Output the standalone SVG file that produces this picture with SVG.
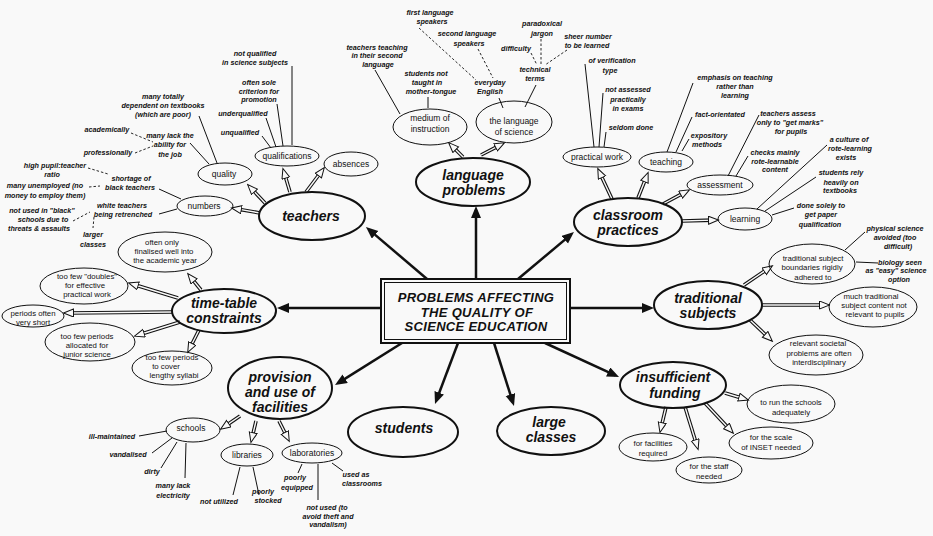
<svg xmlns="http://www.w3.org/2000/svg" width="933" height="536" viewBox="0 0 933 536">
<defs>
<style>
.bg{fill:#f9f9f9}
.me{fill:none;stroke:#111;stroke-width:2}
.se{fill:none;stroke:#111;stroke-width:1}
.mt{font-family:"Liberation Sans",Arial,sans-serif;font-weight:bold;font-style:italic;font-size:14px;text-anchor:middle;fill:#111}
.ct{font-family:"Liberation Sans",Arial,sans-serif;font-weight:bold;font-style:italic;font-size:13px;text-anchor:middle;fill:#111;letter-spacing:0.3px}
.st{font-family:"Liberation Sans",Arial,sans-serif;font-size:8.5px;text-anchor:middle;fill:#111}
.et{font-family:"Liberation Sans",Arial,sans-serif;font-size:7.8px;text-anchor:middle;fill:#111}
.nt{font-family:"Liberation Sans",Arial,sans-serif;font-style:italic;font-weight:bold;font-size:7.2px;text-anchor:middle;fill:#111}
.ln{fill:none;stroke:#111;stroke-width:1}
.dl{fill:none;stroke:#111;stroke-width:0.9;stroke-dasharray:2.5 2}
.ma{fill:none;stroke:#111;stroke-width:2.5;marker-end:url(#solid)}
.do{fill:none;stroke:#111;stroke-width:3.6}
.di{fill:none;stroke:#f9f9f9;stroke-width:1.4;marker-end:url(#hollow)}
</style>
<marker id="solid" markerUnits="userSpaceOnUse" markerWidth="13" markerHeight="11" refX="8" refY="5" orient="auto">
<path d="M0,0 L12,5 L0,10 z" fill="#111"/>
</marker>
<marker id="hollow" markerUnits="userSpaceOnUse" markerWidth="12" markerHeight="10" refX="5" refY="4.5" orient="auto">
<path d="M0.5,0.5 L10.5,4.5 L0.5,8.5 z" fill="#f9f9f9" stroke="#111" stroke-width="1"/>
</marker>
</defs>
<rect class="bg" x="0" y="0" width="933" height="536"/>

<!-- connectors -->
<g id="connectors">
  <!-- main arrows from the central box -->
  <path class="ma" d="M427,279 L369,229.6"/>
  <path class="ma" d="M476,279 L476,210"/>
  <path class="ma" d="M518,279 L570.9,234.6"/>
  <path class="ma" d="M570,308 L650,308"/>
  <path class="ma" d="M545,343 L615.4,375.3"/>
  <path class="ma" d="M494,343 L512.8,402.2"/>
  <path class="ma" d="M458,343 L436.4,400.3"/>
  <path class="ma" d="M402,343 L338.4,382.9"/>
  <path class="ma" d="M385,308 L281,308"/>

  <!-- double-line arrows to sub-topics -->
  <g>
    <path class="do" d="M265,203 L251.4,188.6"/><path class="di" d="M265,203 L251.4,188.6"/>
    <path class="do" d="M290,192 L284.5,173.8"/><path class="di" d="M290,192 L284.5,173.8"/>
    <path class="do" d="M306,192 L321,172"/><path class="di" d="M306,192 L321,172"/>
    <path class="do" d="M260,213 L236.9,208.9"/><path class="di" d="M260,213 L236.9,208.9"/>
    <path class="do" d="M463,157 L452.5,146.5"/><path class="di" d="M463,157 L452.5,146.5"/>
    <path class="do" d="M481,155 L499.6,145.3"/><path class="di" d="M481,155 L499.6,145.3"/>
    <path class="do" d="M612,199 L600.1,173.5"/><path class="di" d="M612,199 L600.1,173.5"/>
    <path class="do" d="M638,198 L646.1,177.6"/><path class="di" d="M638,198 L646.1,177.6"/>
    <path class="do" d="M663,204 L684.6,192.4"/><path class="di" d="M663,204 L684.6,192.4"/>
    <path class="do" d="M682,221 L713,220.1"/><path class="di" d="M682,221 L713,220.1"/>
    <path class="do" d="M744,285 L767.9,268.8"/><path class="di" d="M744,285 L767.9,268.8"/>
    <path class="do" d="M762,305 L824,305"/><path class="di" d="M762,305 L824,305"/>
    <path class="do" d="M750,320 L768.4,337.5"/><path class="di" d="M750,320 L768.4,337.5"/>
    <path class="do" d="M725,393 L743.2,398.5"/><path class="di" d="M725,393 L743.2,398.5"/>
    <path class="do" d="M705,403 L729.6,429.3"/><path class="di" d="M705,403 L729.6,429.3"/>
    <path class="do" d="M685,407 L696.5,444.2"/><path class="di" d="M685,407 L696.5,444.2"/>
    <path class="do" d="M666,407 L661.2,427.1"/><path class="di" d="M666,407 L661.2,427.1"/>
    <path class="do" d="M240,416 L225.1,426.2"/><path class="di" d="M240,416 L225.1,426.2"/>
    <path class="do" d="M256,421 L252.2,437.1"/><path class="di" d="M256,421 L252.2,437.1"/>
    <path class="do" d="M279,421 L286.8,436.5"/><path class="di" d="M279,421 L286.8,436.5"/>
    <path class="do" d="M201,290 L191.2,277.9"/><path class="di" d="M201,290 L191.2,277.9"/>
    <path class="do" d="M178,298 L133.8,284.5"/><path class="di" d="M178,298 L133.8,284.5"/>
    <path class="do" d="M172,312 L69,313"/><path class="di" d="M172,312 L69,313"/>
    <path class="do" d="M180,322 L139.8,334.5"/><path class="di" d="M180,322 L139.8,334.5"/>
    <path class="do" d="M199,330 L190.2,347.5"/><path class="di" d="M199,330 L190.2,347.5"/>
  </g>

  <!-- plain and dashed leader lines to notes -->
  <g>
    <path class="ln" d="M292,66 L292,145"/>
    <path class="ln" d="M277,104 L283,146"/>
    <path class="ln" d="M266,118 L276,147"/>
    <path class="ln" d="M262,136 L271,148"/>
    <path class="ln" d="M199,116 L217,163"/>
    <path class="ln" d="M190,143 L209,164"/>
    <path class="dl" d="M131,133 L153,142"/>
    <path class="dl" d="M135,153 L153,146"/>
    <path class="dl" d="M88,168 L108,174"/>
    <path class="dl" d="M89,187 L100,186"/>
    <path class="ln" d="M159,189 L181,199"/>
    <path class="ln" d="M159,214 L177,209"/>
    <path class="dl" d="M73,221 L90,212"/>
    <path class="dl" d="M94,217 L93,228"/>

    <path class="ln" d="M375,70 L400,114"/>
    <path class="ln" d="M428,97 L428,108"/>
    <path class="dl" d="M419,28 L476,80"/>
    <path class="dl" d="M478,49 L493,78"/>
    <path class="ln" d="M499,98 L503,108"/>
    <path class="ln" d="M536,85 L525,107"/>
    <path class="dl" d="M531,53 L537,65"/>
    <path class="dl" d="M541,39 L541,65"/>
    <path class="dl" d="M567,50 L545,65"/>

    <path class="ln" d="M585,64 L594,147"/>
    <path class="ln" d="M603,93 L599,147"/>
    <path class="ln" d="M606,132 L604,147"/>
    <path class="ln" d="M693,83 L667,152"/>
    <path class="ln" d="M692,117 L676,152"/>
    <path class="ln" d="M689,139 L682,151"/>
    <path class="ln" d="M759,115 L728,176"/>
    <path class="ln" d="M748,156 L736,176"/>
    <path class="ln" d="M827,145 L757,209"/>
    <path class="ln" d="M816,177 L765,211"/>
    <path class="ln" d="M794,208 L772,215"/>

    <path class="ln" d="M865,232 L845,250"/>
    <path class="ln" d="M856,262 L878,263"/>

    <path class="ln" d="M139,436 L167,431"/>
    <path class="ln" d="M152,453 L172,438"/>
    <path class="ln" d="M161,468 L177,442"/>
    <path class="ln" d="M185,478 L186,443"/>
    <path class="ln" d="M233,495 L240,467"/>
    <path class="ln" d="M253,467 L259,495"/>
    <path class="ln" d="M302,464 L298,473"/>
    <path class="ln" d="M318,464 L318,500"/>
    <path class="ln" d="M332,463 L343,471"/>
  </g>
</g>

<!-- central topic -->
<g id="centre">
  <rect x="381" y="279" width="189" height="64" fill="#f9f9f9" stroke="#111" stroke-width="2"/>
  <rect x="384.5" y="282.5" width="182" height="57" fill="none" stroke="#111" stroke-width="1"/>
  <text class="ct" x="476" y="302">PROBLEMS AFFECTING</text>
  <text class="ct" x="477" y="317">THE QUALITY OF</text>
  <text class="ct" x="476" y="331">SCIENCE EDUCATION</text>
</g>

<!-- teachers -->
<g id="teachers">
  <ellipse class="me" cx="312" cy="216" rx="53" ry="24"/>
  <text class="mt" x="311" y="221">teachers</text>
</g>
<g id="quality">
  <ellipse class="se" cx="225" cy="174" rx="27" ry="11"/>
  <text class="st" x="224" y="177">quality</text>
</g>
<g id="qualifications">
  <ellipse class="se" cx="287" cy="156" rx="32" ry="10"/>
  <text class="st" x="287" y="159">qualifications</text>
</g>
<g id="absences">
  <ellipse class="se" cx="351" cy="164" rx="27" ry="12"/>
  <text class="st" x="351" y="167">absences</text>
</g>
<g id="numbers">
  <ellipse class="se" cx="205" cy="206" rx="28" ry="10"/>
  <text class="st" x="204" y="209">numbers</text>
</g>
<g id="teacher-notes">
  <text class="nt" x="255" y="56">not qualified</text>
  <text class="nt" x="255" y="65">in science subjects</text>
  <text class="nt" x="259" y="85">often sole</text>
  <text class="nt" x="259" y="94">criterion for</text>
  <text class="nt" x="259" y="102">promotion</text>
  <text class="nt" x="243" y="116">underqualified</text>
  <text class="nt" x="240" y="135">unqualified</text>
  <text class="nt" x="163" y="99">many totally</text>
  <text class="nt" x="163" y="108">dependent on textbooks</text>
  <text class="nt" x="163" y="117">(which are poor)</text>
  <text class="nt" x="170" y="138">many lack the</text>
  <text class="nt" x="170" y="147">ability for</text>
  <text class="nt" x="170" y="157">the job</text>
  <text class="nt" x="107" y="132">academically</text>
  <text class="nt" x="108" y="155">professionally</text>
  <text class="nt" x="55" y="168">high pupil:teacher</text>
  <text class="nt" x="52" y="177">ratio</text>
  <text class="nt" x="131" y="181">shortage of</text>
  <text class="nt" x="130" y="190">black teachers</text>
  <text class="nt" x="45" y="188">many unemployed (no</text>
  <text class="nt" x="45" y="198">money to employ them)</text>
  <text class="nt" x="122" y="208">white teachers</text>
  <text class="nt" x="123" y="217">being retrenched</text>
  <text class="nt" x="42" y="213">not used in &quot;black&quot;</text>
  <text class="nt" x="43" y="222">schools due to</text>
  <text class="nt" x="39" y="231">threats &amp; assaults</text>
  <text class="nt" x="93" y="237">larger</text>
  <text class="nt" x="93" y="247">classes</text>
</g>

<!-- language problems -->
<g id="language-problems">
  <ellipse class="me" cx="473" cy="182" rx="57" ry="24"/>
  <text class="mt" x="473" y="180">language</text>
  <text class="mt" x="474" y="195">problems</text>
</g>
<g id="medium">
  <ellipse class="se" cx="430" cy="127" rx="37" ry="18"/>
  <text class="st" x="430" y="121">medium of</text>
  <text class="st" x="430" y="132">instruction</text>
</g>
<g id="language-of-science">
  <ellipse class="se" cx="514" cy="122" rx="38" ry="21"/>
  <text class="st" x="514" y="124">the language</text>
  <text class="st" x="514" y="135">of science</text>
</g>
<g id="language-notes">
  <text class="nt" x="377" y="50">teachers teaching</text>
  <text class="nt" x="377" y="58">in their second</text>
  <text class="nt" x="378" y="67">language</text>
  <text class="nt" x="426" y="76">students not</text>
  <text class="nt" x="427" y="85">taught in</text>
  <text class="nt" x="431" y="94">mother-tongue</text>
  <text class="nt" x="430" y="15">first language</text>
  <text class="nt" x="432" y="24">speakers</text>
  <text class="nt" x="467" y="36">second language</text>
  <text class="nt" x="469" y="46">speakers</text>
  <text class="nt" x="490" y="85">everyday</text>
  <text class="nt" x="490" y="94">English</text>
  <text class="nt" x="535" y="72">technical</text>
  <text class="nt" x="535" y="81">terms</text>
  <text class="nt" x="516" y="51">difficulty</text>
  <text class="nt" x="542" y="26">paradoxical</text>
  <text class="nt" x="542" y="36">jargon</text>
  <text class="nt" x="588" y="39">sheer number</text>
  <text class="nt" x="587" y="48">to be learned</text>
</g>

<!-- classroom practices -->
<g id="classroom-practices">
  <ellipse class="me" cx="628" cy="222" rx="54" ry="24"/>
  <text class="mt" x="628" y="220">classroom</text>
  <text class="mt" x="628" y="235">practices</text>
</g>
<g id="practical-work">
  <ellipse class="se" cx="597" cy="157" rx="34" ry="10"/>
  <text class="st" x="597" y="160">practical work</text>
</g>
<g id="teaching">
  <ellipse class="se" cx="666" cy="162" rx="27" ry="10"/>
  <text class="st" x="666" y="165">teaching</text>
</g>
<g id="assessment">
  <ellipse class="se" cx="720" cy="185" rx="33" ry="10"/>
  <text class="st" x="720" y="188">assessment</text>
</g>
<g id="learning">
  <ellipse class="se" cx="745" cy="219" rx="27" ry="11"/>
  <text class="st" x="745" y="222">learning</text>
</g>
<g id="classroom-notes">
  <text class="nt" x="612" y="63">of verification</text>
  <text class="nt" x="610" y="73">type</text>
  <text class="nt" x="628" y="92">not assessed</text>
  <text class="nt" x="628" y="102">practically</text>
  <text class="nt" x="628" y="111">in exams</text>
  <text class="nt" x="631" y="130">seldom done</text>
  <text class="nt" x="735" y="80">emphasis on teaching</text>
  <text class="nt" x="735" y="89">rather than</text>
  <text class="nt" x="735" y="98">learning</text>
  <text class="nt" x="720" y="117">fact-orientated</text>
  <text class="nt" x="709" y="138">expository</text>
  <text class="nt" x="707" y="147">methods</text>
  <text class="nt" x="788" y="116">teachers assess</text>
  <text class="nt" x="790" y="125">only to &quot;get marks&quot;</text>
  <text class="nt" x="791" y="134">for pupils</text>
  <text class="nt" x="775" y="155">checks mainly</text>
  <text class="nt" x="775" y="164">rote-learnable</text>
  <text class="nt" x="775" y="172">content</text>
  <text class="nt" x="849" y="142">a culture of</text>
  <text class="nt" x="850" y="151">rote-learning</text>
  <text class="nt" x="846" y="160">exists</text>
  <text class="nt" x="841" y="175">students rely</text>
  <text class="nt" x="841" y="185">heavily on</text>
  <text class="nt" x="840" y="193">textbooks</text>
  <text class="nt" x="821" y="208">done solely to</text>
  <text class="nt" x="821" y="217">get paper</text>
  <text class="nt" x="820" y="227">qualification</text>
</g>

<!-- traditional subjects -->
<g id="traditional-subjects">
  <ellipse class="me" cx="708" cy="305" rx="54" ry="24"/>
  <text class="mt" x="708" y="303">traditional</text>
  <text class="mt" x="708" y="318">subjects</text>
</g>
<g id="boundaries">
  <ellipse class="se" cx="812" cy="264" rx="43" ry="20"/>
  <text class="et" x="813" y="261">traditional subject</text>
  <text class="et" x="812" y="270">boundaries rigidly</text>
  <text class="et" x="813" y="280">adhered to</text>
</g>
<g id="content-not-relevant">
  <ellipse class="se" cx="873" cy="307" rx="44" ry="20"/>
  <text class="et" x="871" y="299">much traditional</text>
  <text class="et" x="874" y="308">subject content not</text>
  <text class="et" x="875" y="317">relevant to pupils</text>
</g>
<g id="interdisciplinary">
  <ellipse class="se" cx="816" cy="355" rx="47" ry="20"/>
  <text class="et" x="818" y="346">relevant societal</text>
  <text class="et" x="819" y="356">problems are often</text>
  <text class="et" x="819" y="365">interdisciplinary</text>
</g>
<g id="traditional-notes">
  <text class="nt" x="895" y="231">physical science</text>
  <text class="nt" x="895" y="240">avoided (too</text>
  <text class="nt" x="898" y="249">difficult)</text>
  <text class="nt" x="900" y="265">biology seen</text>
  <text class="nt" x="896" y="273">as &quot;easy&quot; science</text>
  <text class="nt" x="899" y="282">option</text>
</g>

<!-- insufficient funding -->
<g id="insufficient-funding">
  <ellipse class="me" cx="673" cy="385" rx="53" ry="23"/>
  <text class="mt" x="673" y="382">insufficient</text>
  <text class="mt" x="675" y="398">funding</text>
</g>
<g id="run-schools">
  <ellipse class="se" cx="791" cy="404" rx="44" ry="19"/>
  <text class="et" x="791" y="405">to run the schools</text>
  <text class="et" x="791" y="415">adequately</text>
</g>
<g id="inset">
  <ellipse class="se" cx="771" cy="443" rx="42" ry="16"/>
  <text class="et" x="771" y="440">for the scale</text>
  <text class="et" x="771" y="450">of INSET needed</text>
</g>
<g id="staff">
  <ellipse class="se" cx="709" cy="470" rx="33" ry="13"/>
  <text class="et" x="709" y="469">for the staff</text>
  <text class="et" x="709" y="479">needed</text>
</g>
<g id="facilities-required">
  <ellipse class="se" cx="653" cy="447" rx="34" ry="14"/>
  <text class="et" x="653" y="446">for facilities</text>
  <text class="et" x="653" y="456">required</text>
</g>

<!-- large classes -->
<g id="large-classes">
  <ellipse class="me" cx="551" cy="431" rx="54" ry="24"/>
  <text class="mt" x="549" y="427">large</text>
  <text class="mt" x="551" y="442">classes</text>
</g>

<!-- students -->
<g id="students">
  <ellipse class="me" cx="403" cy="432" rx="55" ry="25"/>
  <text class="mt" x="404" y="433">students</text>
</g>

<!-- provision and use of facilities -->
<g id="provision">
  <ellipse class="me" cx="280" cy="388" rx="52" ry="31"/>
  <text class="mt" x="280" y="382">provision</text>
  <text class="mt" x="280" y="397">and use of</text>
  <text class="mt" x="280" y="412">facilities</text>
</g>
<g id="schools">
  <ellipse class="se" cx="193" cy="430" rx="27" ry="12"/>
  <text class="st" x="191" y="431">schools</text>
</g>
<g id="libraries">
  <ellipse class="se" cx="247" cy="455" rx="26" ry="11"/>
  <text class="st" x="247" y="458">libraries</text>
</g>
<g id="laboratories">
  <ellipse class="se" cx="312" cy="453" rx="30" ry="10"/>
  <text class="st" x="312" y="456">laboratories</text>
</g>
<g id="provision-notes">
  <text class="nt" x="112" y="439">ill-maintained</text>
  <text class="nt" x="128" y="457">vandalised</text>
  <text class="nt" x="152" y="474">dirty</text>
  <text class="nt" x="173" y="488">many lack</text>
  <text class="nt" x="173" y="498">electricity</text>
  <text class="nt" x="219" y="504">not utilized</text>
  <text class="nt" x="263" y="494">poorly</text>
  <text class="nt" x="268" y="503">stocked</text>
  <text class="nt" x="295" y="480">poorly</text>
  <text class="nt" x="297" y="490">equipped</text>
  <text class="nt" x="327" y="510">not used (to</text>
  <text class="nt" x="328" y="519">avoid theft and</text>
  <text class="nt" x="328" y="527">vandalism)</text>
  <text class="nt" x="356" y="477">used as</text>
  <text class="nt" x="362" y="486">classrooms</text>
</g>

<!-- time-table constraints -->
<g id="time-table">
  <ellipse class="me" cx="224" cy="311" rx="52" ry="22"/>
  <text class="mt" x="224" y="308">time-table</text>
  <text class="mt" x="224" y="323">constraints</text>
</g>
<g id="finalised-late">
  <ellipse class="se" cx="165" cy="252" rx="47" ry="20"/>
  <text class="et" x="162" y="245">often only</text>
  <text class="et" x="164" y="254">finalised well into</text>
  <text class="et" x="165" y="263">the academic year</text>
</g>
<g id="doubles">
  <ellipse class="se" cx="84" cy="286" rx="44" ry="18"/>
  <text class="et" x="87" y="279">too few &quot;doubles&quot;</text>
  <text class="et" x="85" y="288">for effective</text>
  <text class="et" x="87" y="297">practical work</text>
</g>
<g id="periods-short">
  <ellipse class="se" cx="33" cy="316" rx="31" ry="11"/>
  <text class="et" x="33" y="316">periods often</text>
  <text class="et" x="33" y="325">very short</text>
</g>
<g id="junior-science">
  <ellipse class="se" cx="90" cy="342" rx="45" ry="19"/>
  <text class="et" x="87" y="339">too few periods</text>
  <text class="et" x="87" y="348">allocated for</text>
  <text class="et" x="87" y="357">junior science</text>
</g>
<g id="syllabi">
  <ellipse class="se" cx="172" cy="368" rx="40" ry="17"/>
  <text class="et" x="172" y="360">too few periods</text>
  <text class="et" x="166" y="369">to cover</text>
  <text class="et" x="174" y="378">lengthy syllabi</text>
</g>
</svg>
